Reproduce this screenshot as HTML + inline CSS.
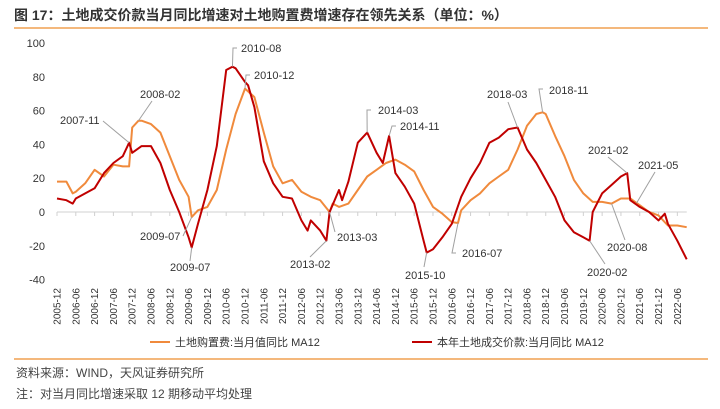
<!DOCTYPE html>
<html><head><meta charset="utf-8">
<style>
body{margin:0;background:#fff;}
#wrap{position:relative;width:720px;height:409px;overflow:hidden;font-family:"Liberation Sans","Noto Sans CJK SC",sans-serif;}
</style></head>
<body>
<div id="wrap">
<svg id="chart" width="720" height="409" xmlns="http://www.w3.org/2000/svg">
<text x="14" y="20" font-size="14" font-weight="bold" fill="#333" font-family="Liberation Sans, Noto Sans CJK SC, sans-serif">图 17：土地成交价款当月同比增速对土地购置费增速存在领先关系（单位：%）</text>
<line x1="14" y1="28" x2="708" y2="28" stroke="#f0a050" stroke-width="1.5"/>
<line x1="14" y1="359" x2="708" y2="359" stroke="#f0a050" stroke-width="1.5"/>
<text x="16" y="377" font-size="12" fill="#444">资料来源：WIND，天风证券研究所</text>
<text x="16" y="398" font-size="12" fill="#444">注：对当月同比增速采取 12 期移动平均处理</text>
<g id="axes"></g>
<g id="series"></g>
<g id="annots"></g>
<g>
<line x1="150" y1="342" x2="170" y2="342" stroke="#f08a3c" stroke-width="2"/>
<text x="175" y="346" font-size="11" fill="#333">土地购置费:当月值同比 MA12</text>
<line x1="412" y1="342" x2="432" y2="342" stroke="#c00000" stroke-width="2"/>
<text x="437" y="346" font-size="11" fill="#333">本年土地成交价款:当月同比 MA12</text>
</g>
</svg>
</div>
<script>
const orangeMonths=[0,3,5,6,9,12,15,18,21,23,24,26,27,30,33,36,39,42,43,45,48,51,54,57,60,63,66,69,72,75,78,81,84,87,88,90,93,96,99,102,105,108,111,114,117,120,123,126,128,129,132,135,138,141,144,147,150,153,155,156,159,162,165,168,171,174,177,180,183,186,189,192,195,198,201];
const orangeValues=[18,18,11,12,17,25,21,28,27,27,50,54,54,52,47,33,19,9,-3,1,3,13,37,58,73,68,47,27,17,19,12,9,7,0,5,3,5,13,21,25,29,31,28,24,13,3,-1,-6,-6.5,1,7,11,17,21,25,37,51,58,59,58,45,33,19,11,6,6,5,8,8,4,0,-2,-8,-8,-9];
const redMonths=[0,3,5,6,9,12,15,18,21,23,24,27,30,33,36,39,42,43,45,48,51,54,56,57,60,61,63,66,69,72,75,78,80,81,84,86,87,90,91,93,96,99,102,104,106,108,111,114,117,118,120,123,126,129,132,135,138,141,144,147,150,153,156,159,162,165,168,170,171,174,177,180,182,183,186,189,192,194,195,198,201];
const redValues=[8,7,5,8,11,14,23,29,33,41,35,39,39,29,13,0,-15,-21,-7,13,39,84,86,85,77,75,62,30,17,9,8,-5,-11,-5,-11,-17,0,13,7,18,41,47,35,29,45,23,15,5,-17,-24,-22,-15,-7,9,20,29,41,44,49,50,37,29,19,9,-5,-12,-15,-17,0,11,16,21,23,7,3,0,-5,-1,-7,-17,-28];
const yTicks=[100,80,60,40,20,0,-20,-40];
const xTickLabels=["2005-12","2006-06","2006-12","2007-06","2007-12","2008-06","2008-12","2009-06","2009-12","2010-06","2010-12","2011-06","2011-12","2012-06","2012-12","2013-06","2013-12","2014-06","2014-12","2015-06","2015-12","2016-06","2016-12","2017-06","2017-12","2018-06","2018-12","2019-06","2019-12","2020-06","2020-12","2021-06","2021-12","2022-06"];
const annotations=[
 {t:"2007-11",s:"r",m:23,tx:60,ty:124,lx:[103,121]},
 {t:"2008-02",s:"o",m:26,tx:140,ty:98,lx:[152,101]},
 {t:"2009-07",s:"o",m:43,tx:140,ty:240,lx:[183,236]},
 {t:"2009-07",s:"r",m:43,tx:170,ty:271,lx:[190,261]},
 {t:"2010-08",s:"r",m:56,tx:241,ty:52,lx:[233,48,233,48]},
 {t:"2010-12",s:"o",m:60,tx:254,ty:79,lx:[246,75,246,75]},
 {t:"2013-02",s:"r",m:86,tx:290,ty:268,lx:[310,257]},
 {t:"2013-03",s:"o",m:87,tx:337,ty:241,lx:[335,232]},
 {t:"2014-03",s:"r",m:99,tx:378,ty:114,lx:[367,110,367,110]},
 {t:"2014-11",s:"r",m:106,tx:400,ty:130,lx:[392,126,392,126]},
 {t:"2015-10",s:"r",m:118,tx:405,ty:279,lx:[424,267]},
 {t:"2016-07",s:"o",m:128,tx:462,ty:257,lx:[452,253,452,253]},
 {t:"2018-03",s:"r",m:147,tx:487,ty:98,lx:[508,102]},
 {t:"2018-11",s:"o",m:155,tx:549,ty:94,lx:[539,89,539,89]},
 {t:"2021-02",s:"r",m:182,tx:588,ty:154,lx:[608,157]},
 {t:"2021-05",s:"o",m:185,tx:638,ty:169,lx:[655,172]},
 {t:"2020-08",s:"o",m:177,tx:607,ty:251,lx:[625,240]},
 {t:"2020-02",s:"r",m:170,tx:587,ty:276,lx:[605,264]}
];
const NS="http://www.w3.org/2000/svg";
function xS(m){return 57+m*3.133;}
function yS(v){return 212-v*1.69;}
function mk(tag,attrs,parent){const e=document.createElementNS(NS,tag);for(const k in attrs)e.setAttribute(k,attrs[k]);parent.appendChild(e);return e;}
const axes=document.getElementById('axes');
yTicks.forEach(v=>{
 const t=mk('text',{x:45,y:yS(v)+4,'font-size':11,fill:'#333','text-anchor':'end'},axes);
 
 
 t.textContent=v;
});
const zl=mk('line',{x1:xS(0),y1:yS(0),x2:xS(201),y2:yS(0),stroke:'#d0d0d0','stroke-width':1},axes);


xTickLabels.forEach((l,i)=>{
 const x=xS(i*6);
 const tk=mk('line',{x1:x,y1:yS(0),x2:x,y2:yS(0)+4,stroke:'#d0d0d0'},axes);
 
 
 const t=mk('text',{x:0,y:0,'font-size':10,fill:'#333','text-anchor':'end',transform:`translate(${x+3.5},288) rotate(-90)`},axes);
 
 
 t.textContent=l;
});
const series=document.getElementById('series');
function path(ms,vs){return ms.map((m,i)=>(i?'L':'M')+xS(m).toFixed(1)+','+yS(vs[i]).toFixed(1)).join('');}
const po=mk('path',{d:path(orangeMonths,orangeValues),fill:'none',stroke:'#f08a3c','stroke-width':2,'stroke-linejoin':'round'},series);


const pr=mk('path',{d:path(redMonths,redValues),fill:'none',stroke:'#c00000','stroke-width':2,'stroke-linejoin':'round'},series);


function valAt(ms,vs,m){for(let i=1;i<ms.length;i++){if(m<=ms[i]){const f=(m-ms[i-1])/(ms[i]-ms[i-1]);return vs[i-1]+f*(vs[i]-vs[i-1]);}}return vs[vs.length-1];}
const an=document.getElementById('annots');
annotations.forEach(a=>{
 const v=a.s==='o'?valAt(orangeMonths,orangeValues,a.m):valAt(redMonths,redValues,a.m);
 const px=xS(a.m),py=yS(v);
 let d;
 if(a.lx.length===4){d=`M${a.lx[0]+4},${a.lx[1]}L${a.lx[0]},${a.lx[1]}L${px},${py}`;}
 else d=`M${a.lx[0]},${a.lx[1]}L${px},${py}`;
 const ln=mk('path',{d:d,fill:'none',stroke:'#a0a0a0','stroke-width':1},an);
 
 
 const t=mk('text',{x:a.tx,y:a.ty,'font-size':11,fill:'#333'},an);
 
 
 t.textContent=a.t;
});
</script>
</body></html>
